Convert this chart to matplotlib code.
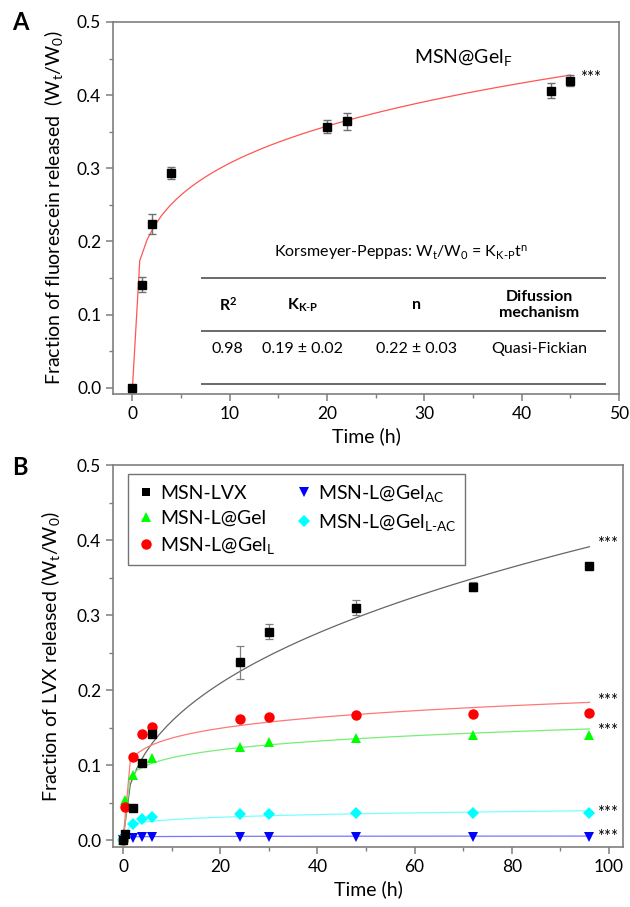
import numpy as np
import matplotlib
matplotlib.use("Agg")
import matplotlib.pyplot as plt
from matplotlib.lines import Line2D

plt.rcParams['font.family'] = ['Lato', 'DejaVu Sans']
plt.rcParams['mathtext.fontset'] = 'custom'
plt.rcParams['mathtext.rm'] = 'Lato'
plt.rcParams['mathtext.it'] = 'Lato:italic'
plt.rcParams['mathtext.bf'] = 'Lato:bold'

# ---------------- Panel A data ----------------
tA = [0, 1, 2, 4, 20, 22, 43, 45]
yA = [0.0, 0.141, 0.224, 0.294, 0.357, 0.364, 0.406, 0.420]
eA = [0.0, 0.010, 0.014, 0.008, 0.009, 0.012, 0.010, 0.008]
kA, nA = 0.185, 0.22   # Korsmeyer-Peppas fit

table_headers = [r'R$^\mathbf{2}$', r'K$_\mathbf{K\text{-}P}$', 'n', 'Difussion\nmechanism']
table_values = ['0.98', '0.19 ± 0.02', '0.22 ± 0.03', 'Quasi-Fickian']

# ---------------- Panel B data ----------------
tB = [0, 0.5, 2, 4, 6, 24, 30, 48, 72, 96]
series_names = ['MSN-LVX', 'MSN-L@Gel', r'MSN-L@Gel$_\mathregular{L}$',
                r'MSN-L@Gel$_\mathregular{AC}$', r'MSN-L@Gel$_\mathregular{L\text{-}AC}$']
y_lvx = [0.0, 0.008, 0.043, 0.103, 0.141, 0.237, 0.278, 0.310, 0.338, 0.365]
y_gel = [0.0, 0.054, 0.087, 0.103, 0.109, 0.124, 0.131, 0.136, 0.140, 0.140]
y_gelL = [0.0, 0.044, 0.111, 0.141, 0.151, 0.162, 0.164, 0.167, 0.168, 0.169]
y_gelAC = [0.0, 0.002, 0.003, 0.004, 0.004, 0.004, 0.004, 0.004, 0.004, 0.004]
y_gelLAC = [0.0, 0.005, 0.021, 0.028, 0.031, 0.035, 0.035, 0.036, 0.036, 0.036]
e_lvx = [0.0, 0.002, 0.003, 0.004, 0.004, 0.022, 0.010, 0.010, 0.006, 0.004]
fit_k = [0.063, 0.0807, 0.100, 0.0042, 0.0188]
fit_n = [0.40, 0.133, 0.133, 0.05, 0.16]

colors = ['#000000', '#00ff00', '#ff0000', '#0000ff', '#00ffff']
fit_colors = ['#666666', '#77ee77', '#ff7777', '#7777ff', '#77ffff']
markers = ['s', '^', 'o', 'v', 'D']
msizes = [6.3, 7.5, 7.5, 7.5, 6.5]

fig = plt.figure(figsize=(6.3, 9.07), dpi=100)

spine_c = '#7f7f7f'

def style(ax):
    for s in ax.spines.values():
        s.set_color(spine_c)
        s.set_linewidth(1.2)
    ax.tick_params(which='both', direction='out', color=spine_c, labelsize=12.5,
                   top=False, right=False)
    ax.tick_params(which='major', length=5, width=1.1)
    ax.tick_params(which='minor', length=3, width=1.0)

# ---------- A ----------
axA = fig.add_axes([113/630, 1-394/907, (619-113)/630, (394-22)/907])
style(axA)
tfit = np.linspace(0, 45, 61)
axA.plot(tfit, kA*tfit**nA, color='#ff5555', lw=0.9, zorder=2)
axA.errorbar(tA, yA, yerr=eA, fmt='s', color='black', ms=6, ecolor='#707070',
             elinewidth=1.0, capsize=3, capthick=1.0, zorder=3)
axA.set_xlim(-2, 50)
axA.set_ylim(-0.0086, 0.5)
axA.set_xticks([0, 10, 20, 30, 40, 50])
axA.set_xticks(np.arange(5, 50, 10), minor=True)
axA.set_yticks([0.0, 0.1, 0.2, 0.3, 0.4, 0.5])
axA.set_yticks(np.arange(0.05, 0.5, 0.1), minor=True)
axA.set_yticklabels(['0.0', '0.1', '0.2', '0.3', '0.4', '0.5'])
axA.set_xlabel('Time (h)', fontsize=14, labelpad=4)
axA.set_ylabel(r'Fraction of fluorescein released  (W$_\mathregular{t}$/W$_\mathregular{0}$)',
               fontsize=14)
axA.yaxis.set_label_coords(-0.095, 0.5)
axA.text(34, 0.452, r'MSN@Gel$_\mathregular{F}$', fontsize=14, ha='center', va='center')
axA.text(46, 0.4235, '***', fontsize=12, ha='left', va='center')

# table
axA.text(27.6, 0.184, r'Korsmeyer-Peppas: W$_\mathregular{t}$/W$_\mathregular{0}$ = K$_\mathregular{K\text{-}P}$t$^\mathregular{n}$',
         fontsize=11.5, ha='center', va='center')
for yl in [0.150, 0.078, 0.005]:
    axA.plot([7, 48.7], [yl, yl], color='#505050', lw=1.2, solid_capstyle='butt')
col_x = [9.8, 17.5, 29.2, 41.8]
for x, h in zip(col_x, table_headers):
    axA.text(x, 0.113, h, fontsize=11.5, fontweight='bold', ha='center', va='center',
             linespacing=1.15)
for x, v in zip(col_x, table_values):
    axA.text(x, 0.053, v, fontsize=11.5, ha='center', va='center')

fig.text(20/630, 1-23/907, 'A', fontsize=17, fontweight='bold', ha='center', va='center')

# ---------- B ----------
axB = fig.add_axes([113/630, 1-847/907, (623-113)/630, (847-465)/907])
style(axB)
tgrid = np.linspace(0, 96, 65)
ys = [y_lvx, y_gel, y_gelL, y_gelAC, y_gelLAC]
for i in range(5):
    axB.plot(tgrid, fit_k[i]*tgrid**fit_n[i], color=fit_colors[i], lw=0.9, zorder=2)
handles = []
for i in range(5):
    if i == 0:
        axB.errorbar(tB, ys[i], yerr=e_lvx, fmt=markers[i], color=colors[i], ms=msizes[i],
                     ecolor='#808080', elinewidth=0.9, capsize=3, capthick=0.9, zorder=4)
    else:
        axB.plot(tB, ys[i], markers[i], color=colors[i], ms=msizes[i], mew=0, zorder=3)
    handles.append(Line2D([], [], ls='none', marker=markers[i], color=colors[i],
                          ms=msizes[i], mew=0))
star_y = [0.395, 0.145, 0.185, 0.004, 0.036]
for sy in star_y:
    axB.text(97.5, sy, '***', fontsize=12, ha='left', va='center')
axB.set_xlim(-2.06, 102.9)
axB.set_ylim(-0.0093, 0.5)
axB.set_xticks([0, 20, 40, 60, 80, 100])
axB.set_xticks(np.arange(10, 100, 20), minor=True)
axB.set_yticks([0.0, 0.1, 0.2, 0.3, 0.4, 0.5])
axB.set_yticks(np.arange(0.05, 0.5, 0.1), minor=True)
axB.set_yticklabels(['0.0', '0.1', '0.2', '0.3', '0.4', '0.5'])
axB.set_xlabel('Time (h)', fontsize=14, labelpad=4)
axB.set_ylabel(r'Fraction of LVX released (W$_\mathregular{t}$/W$_\mathregular{0}$)', fontsize=14)
axB.yaxis.set_label_coords(-0.1, 0.5)
leg = axB.legend(handles, series_names, ncol=2, loc='upper left',
                 bbox_to_anchor=(15/510, 1-9/382), borderaxespad=0,
                 fontsize=14, frameon=True, fancybox=False, handletextpad=0.2,
                 handlelength=1.0, columnspacing=1.0, labelspacing=0.42,
                 borderpad=0.45)
leg.get_frame().set_edgecolor('#505050')
leg.get_frame().set_linewidth(1.0)

fig.text(20/630, 1-467/907, 'B', fontsize=17, fontweight='bold', ha='center', va='center')

fig.savefig('out.png', dpi=100)
